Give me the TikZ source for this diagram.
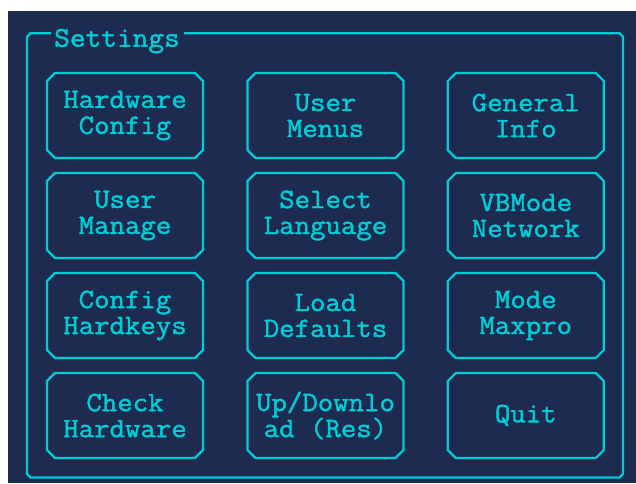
\documentclass[tikz,border=0pt]{standalone}
\usepackage{fontspec}
\usetikzlibrary{shapes.misc}
\newfontfamily\pixfont[FakeBold=1.6,FakeStretch=1.07]{Latin Modern Mono}
\definecolor{bgnavy}{HTML}{1C2B4F}
\definecolor{lcyan}{HTML}{00CCD6}
\tikzset{
  btn/.style={chamfered rectangle, chamfered rectangle xsep=4pt, chamfered rectangle ysep=4pt,
    draw=lcyan, line width=2.2pt, minimum width=156pt, minimum height=85pt, inner sep=0pt,
    text=lcyan, align=center, font=\pixfont\fontsize{28}{26}\selectfont},
  framelabel/.style={text=lcyan, inner sep=0pt, font=\pixfont\fontsize{28.5}{26}\selectfont},
  frameline/.style={draw=lcyan, line width=2.2pt}
}
\begin{document}
\begin{tikzpicture}[x=1pt,y=-1pt]
\useasboundingbox (0,0) rectangle (636,483);
\fill[white] (0,0) rectangle (636,483);
\fill[bgnavy] (8,11) rectangle (636,483);
% outer frame
\node[framelabel, anchor=base] (lbl) at (117,46.7) {Settings};
\coordinate (fl) at (51,33.3);
\coordinate (fr) at (184,33.3);
\draw[frameline] (fl) -- (30.5,33.3) -- (27,36.8) -- (27,474) -- (30.5,477.5) -- (619.5,477.5) -- (623,474) -- (623,36.8) -- (619.5,33.3) -- (fr);
% buttons
\node[btn] (b11) at (125,115.5) {Hardware\\Config};
\node[btn] (b12) at (325.5,115.5) {User\\Menus};
\node[btn] (b13) at (525.8,115.5) {General\\Info};
\node[btn] (b21) at (125,215.5) {User\\Manage};
\node[btn] (b22) at (325.5,215.5) {Select\\Language};
\node[btn] (b23) at (525.8,215.5) {VBMode\\Network};
\node[btn] (b31) at (125,315.5) {Config\\Hardkeys};
\node[btn] (b32) at (325.5,315.5) {Load\\Defaults};
\node[btn] (b33) at (525.8,315.5) {Mode\\Maxpro};
\node[btn] (b41) at (125,415.5) {Check\\Hardware};
\node[btn] (b42) at (325.5,415.5) {Up/Downlo\\ad (Res)};
\node[btn] (b43) at (525.8,415.5) {Quit};
\end{tikzpicture}
\end{document}
